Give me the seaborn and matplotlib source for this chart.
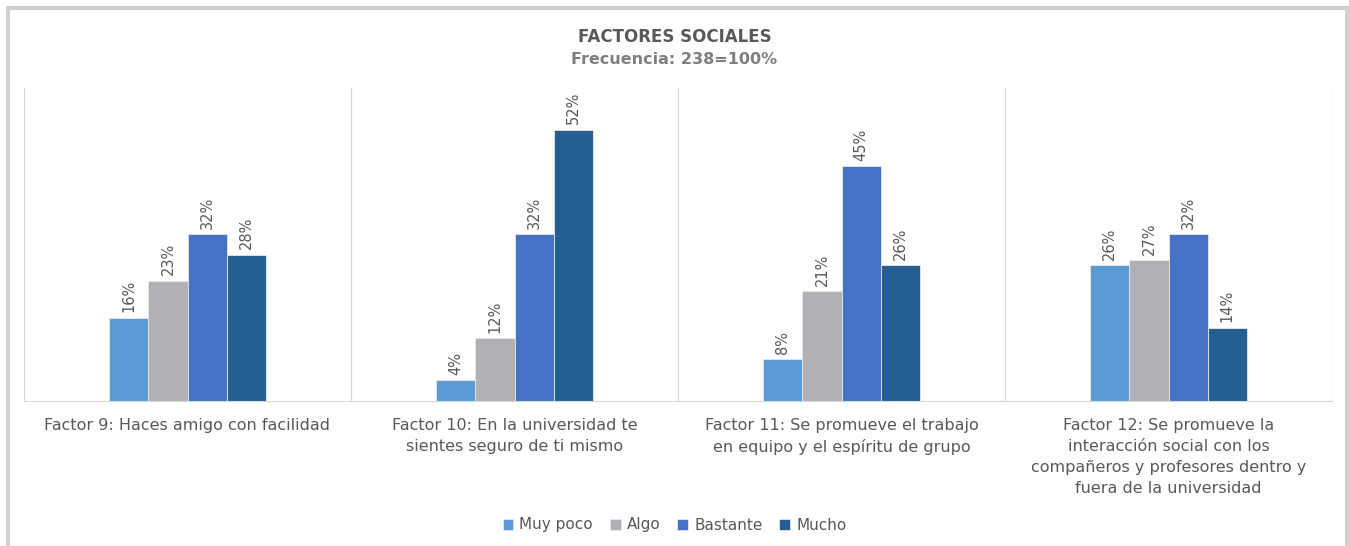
import pandas as pd
import numpy as np
import matplotlib
matplotlib.use("Agg")
import matplotlib.pyplot as plt
import seaborn as sns
from matplotlib.patches import Rectangle

# datos
factores = [
    "Factor 9: Haces amigo con facilidad",
    "Factor 10: En la universidad te\nsientes seguro de ti mismo",
    "Factor 11: Se promueve el trabajo\nen equipo y el espíritu de grupo",
    "Factor 12: Se promueve la\ninteracción social con los\ncompañeros y profesores dentro y\nfuera de la universidad",
]
niveles = ["Muy poco", "Algo", "Bastante", "Mucho"]
muy_poco = [16, 4, 8, 26]
algo = [23, 12, 21, 27]
bastante = [32, 32, 45, 32]
mucho = [28, 52, 26, 14]
colores = ["#5B9BD5", "#B0B1B4", "#4472C4", "#255E91"]

df = pd.DataFrame({
    "Factor": factores * 4,
    "Nivel": np.repeat(niveles, 4),
    "Valor": muy_poco + algo + bastante + mucho,
})

sns.set_style("white")
plt.rcParams["font.family"] = ["DejaVu Sans"]

fig = plt.figure(figsize=(13.49, 5.46), dpi=100)
ax = fig.add_axes([24 / 1349, 1 - 401 / 546, 1308 / 1349, 313 / 546])

sns.barplot(data=df, x="Factor", y="Valor", hue="Nivel", palette=colores,
            saturation=1, width=0.48, gap=0, edgecolor="#E8E8E8",
            linewidth=0.6, ax=ax)

for cont in ax.containers:
    ax.bar_label(cont, labels=[f"{int(v)}%" for v in cont.datavalues],
                 rotation=90, padding=4, fontsize=10.5, color="#595959")

ax.set_ylim(0, 60)
ax.set_xlim(-0.5, 3.5)
ax.set_yticks([])
ax.set_xlabel("")
ax.set_ylabel("")
for x in [-0.5, 0.5, 1.5, 2.5, 3.5]:
    ax.axvline(x, color="#D9D9D9", lw=0.9, zorder=0)
for s in ["top", "left", "right"]:
    ax.spines[s].set_visible(False)
ax.spines["bottom"].set_color("#D9D9D9")
ax.tick_params(axis="x", length=0, pad=12, labelsize=11.5, labelcolor="#595959")
for t in ax.get_xticklabels():
    t.set_linespacing(1.52)
    t.set_verticalalignment("top")

ax.legend_.remove()
handles, labels = ax.get_legend_handles_labels()
fig.legend(handles, labels, loc="center", bbox_to_anchor=(0.5, 1 - 525 / 546),
           ncol=4, frameon=False, fontsize=11, handlelength=0.7,
           handleheight=0.7, handletextpad=0.4, columnspacing=1.1,
           labelcolor="#595959")

fig.text(0.5, 1 - 37 / 546, "FACTORES SOCIALES", ha="center", va="center",
         fontsize=12, fontweight="bold", color="#595959")
fig.text(0.5, 1 - 59 / 546, "Frecuencia: 238=100%", ha="center", va="center",
         fontsize=11.5, fontweight="bold", color="#7F7F7F")

fig.patches.append(Rectangle((8 / 1349, -0.1), 1339 / 1349, 1 - 8 / 546 + 0.1,
                             transform=fig.transFigure, fill=False,
                             edgecolor="#D0D0D0", lw=3))

fig.savefig("out.png", dpi=100)
